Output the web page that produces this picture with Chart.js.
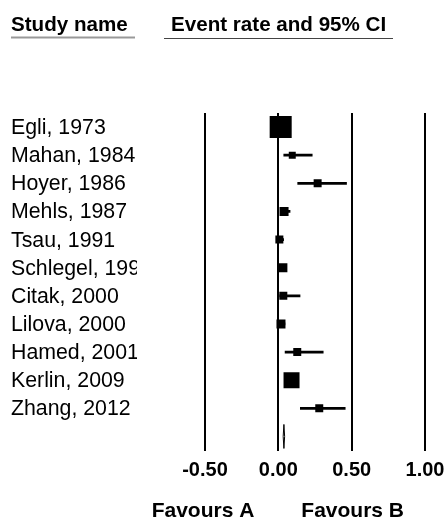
<!DOCTYPE html>
<html>
<head>
<meta charset="utf-8">
<script src="https://cdn.jsdelivr.net/npm/chart.js@4"></script>
<style>
  html, body { margin: 0; padding: 0; background: #fff; }
  #wrap { width: 447px; height: 520px; }
</style>
</head>
<body>
<div id="wrap"><canvas id="c" width="447" height="520"></canvas></div>
<script>
// ---- data ----
const studies = ['Egli, 1973', 'Mahan, 1984', 'Hoyer, 1986', 'Mehls, 1987', 'Tsau, 1991',
  'Schlegel, 1996', 'Citak, 2000', 'Lilova, 2000', 'Hamed, 2001', 'Kerlin, 2009', 'Zhang, 2012'];
const eventRate = [0.016, 0.095, 0.268, 0.039, 0.007, 0.031, 0.034, 0.018, 0.129, 0.090, 0.279];
const lowerCI   = [0.005, 0.037, 0.132, 0.020, 0.002, 0.015, 0.010, 0.008, 0.046, 0.070, 0.150];
const upperCI   = [0.035, 0.231, 0.465, 0.080, 0.036, 0.055, 0.148, 0.045, 0.306, 0.115, 0.456];
const weights   = [35.8, 3.6, 4.7, 6.0, 4.7, 6.0, 4.7, 6.0, 4.7, 18.9, 4.7]; // relative weight (%)
const summaryLabel = 'Summary';
const summaryRate = 0.038;
const summaryLower = 0.033;
const summaryUpper = 0.043;
const xTicks = [-0.5, 0, 0.5, 1.0];
const favourLabels = ['Favours A', 'Favours B'];
const headerLabels = ['Study name', 'Event rate and 95% CI'];

const rowLabels = studies.concat([summaryLabel]);
const FONT = '"Liberation Sans", Arial, sans-serif';

const overlay = {
  id: 'overlay',
  afterDraw(chart) {
    const ctx = chart.ctx;
    const xs = chart.scales.x, ys = chart.scales.y;
    ctx.save();
    // headers
    ctx.fillStyle = '#000';
    ctx.font = 'bold 20.6px ' + FONT;
    ctx.textBaseline = 'alphabetic';
    ctx.textAlign = 'left';
    ctx.fillText(headerLabels[0], 11, 31);
    ctx.fillText(headerLabels[1], 171, 31);
    ctx.strokeStyle = '#999';
    ctx.lineWidth = 2;
    ctx.beginPath(); ctx.moveTo(11, 37.5); ctx.lineTo(135, 37.5); ctx.stroke();
    ctx.strokeStyle = '#444';
    ctx.lineWidth = 1;
    ctx.beginPath(); ctx.moveTo(164, 38.5); ctx.lineTo(393, 38.5); ctx.stroke();

    // study names (clipped)
    ctx.save();
    ctx.beginPath(); ctx.rect(0, 0, 137, 520); ctx.clip();
    ctx.font = '21.3px ' + FONT;
    studies.forEach((s) => {
      const y = ys.getPixelForValue(s);
      ctx.fillText(s, 11, y + 7);
    });
    ctx.restore();

    // summary diamond
    const sy = ys.getPixelForValue(summaryLabel);
    const sx = xs.getPixelForValue(summaryRate);
    const sl = xs.getPixelForValue(summaryLower);
    const sh = xs.getPixelForValue(summaryUpper);
    ctx.strokeStyle = '#000';
    ctx.lineWidth = 1;
    ctx.beginPath();
    ctx.moveTo(sl, sy); ctx.lineTo(sx, sy - 12); ctx.lineTo(sh, sy); ctx.lineTo(sx, sy + 12); ctx.closePath();
    ctx.stroke();

    // favours labels
    ctx.font = 'bold 21px ' + FONT;
    ctx.textAlign = 'center';
    ctx.fillText(favourLabels[0], xs.getPixelForValue(-0.5) - 2, 517);
    ctx.fillText(favourLabels[1], xs.getPixelForValue(0.5) + 1, 517);
    ctx.restore();
  }
};

new Chart(document.getElementById('c'), {
  data: {
    labels: rowLabels,
    datasets: [
      {
        type: 'scatter',
        order: 0,
        data: eventRate.map((r, i) => ({ x: r, y: studies[i] })),
        pointStyle: 'rect',
        pointRadius: weights.map(w => 3.68 * Math.sqrt(w) / Math.SQRT2),
        pointHoverRadius: weights.map(w => 3.68 * Math.sqrt(w) / Math.SQRT2),
        backgroundColor: '#000',
        borderWidth: 0
      },
      {
        type: 'bar',
        order: 1,
        indexAxis: 'y',
        data: lowerCI.map((l, i) => [l, upperCI[i]]).concat([null]),
        backgroundColor: '#000',
        borderWidth: 0,
        barThickness: 2
      }
    ]
  },
  options: {
    responsive: false,
    animation: false,
    indexAxis: 'y',
    layout: { padding: { left: 205, right: 22, top: 113, bottom: 0 } },
    plugins: { legend: { display: false }, tooltip: { enabled: false } },
    scales: {
      x: {
        type: 'linear',
        position: 'bottom',
        min: -0.5,
        max: 1.0,
        afterBuildTicks(scale) { scale.ticks = xTicks.map(v => ({ value: v })); },
        afterFit(scale) { scale.height = 69.5; scale.paddingLeft = 0; scale.paddingRight = 0; },
        grid: { color: '#000', lineWidth: 2, drawTicks: false },
        border: { display: false },
        ticks: {
          padding: 8,
          color: '#000',
          font: { family: FONT, size: 20, weight: 'bold' },
          callback: (v) => Number(v).toFixed(2),
          maxRotation: 0
        }
      },
      y: {
        type: 'category',
        labels: rowLabels,
        display: false,
        offset: true
      }
    }
  },
  plugins: [overlay]
});
</script>
</body>
</html>
